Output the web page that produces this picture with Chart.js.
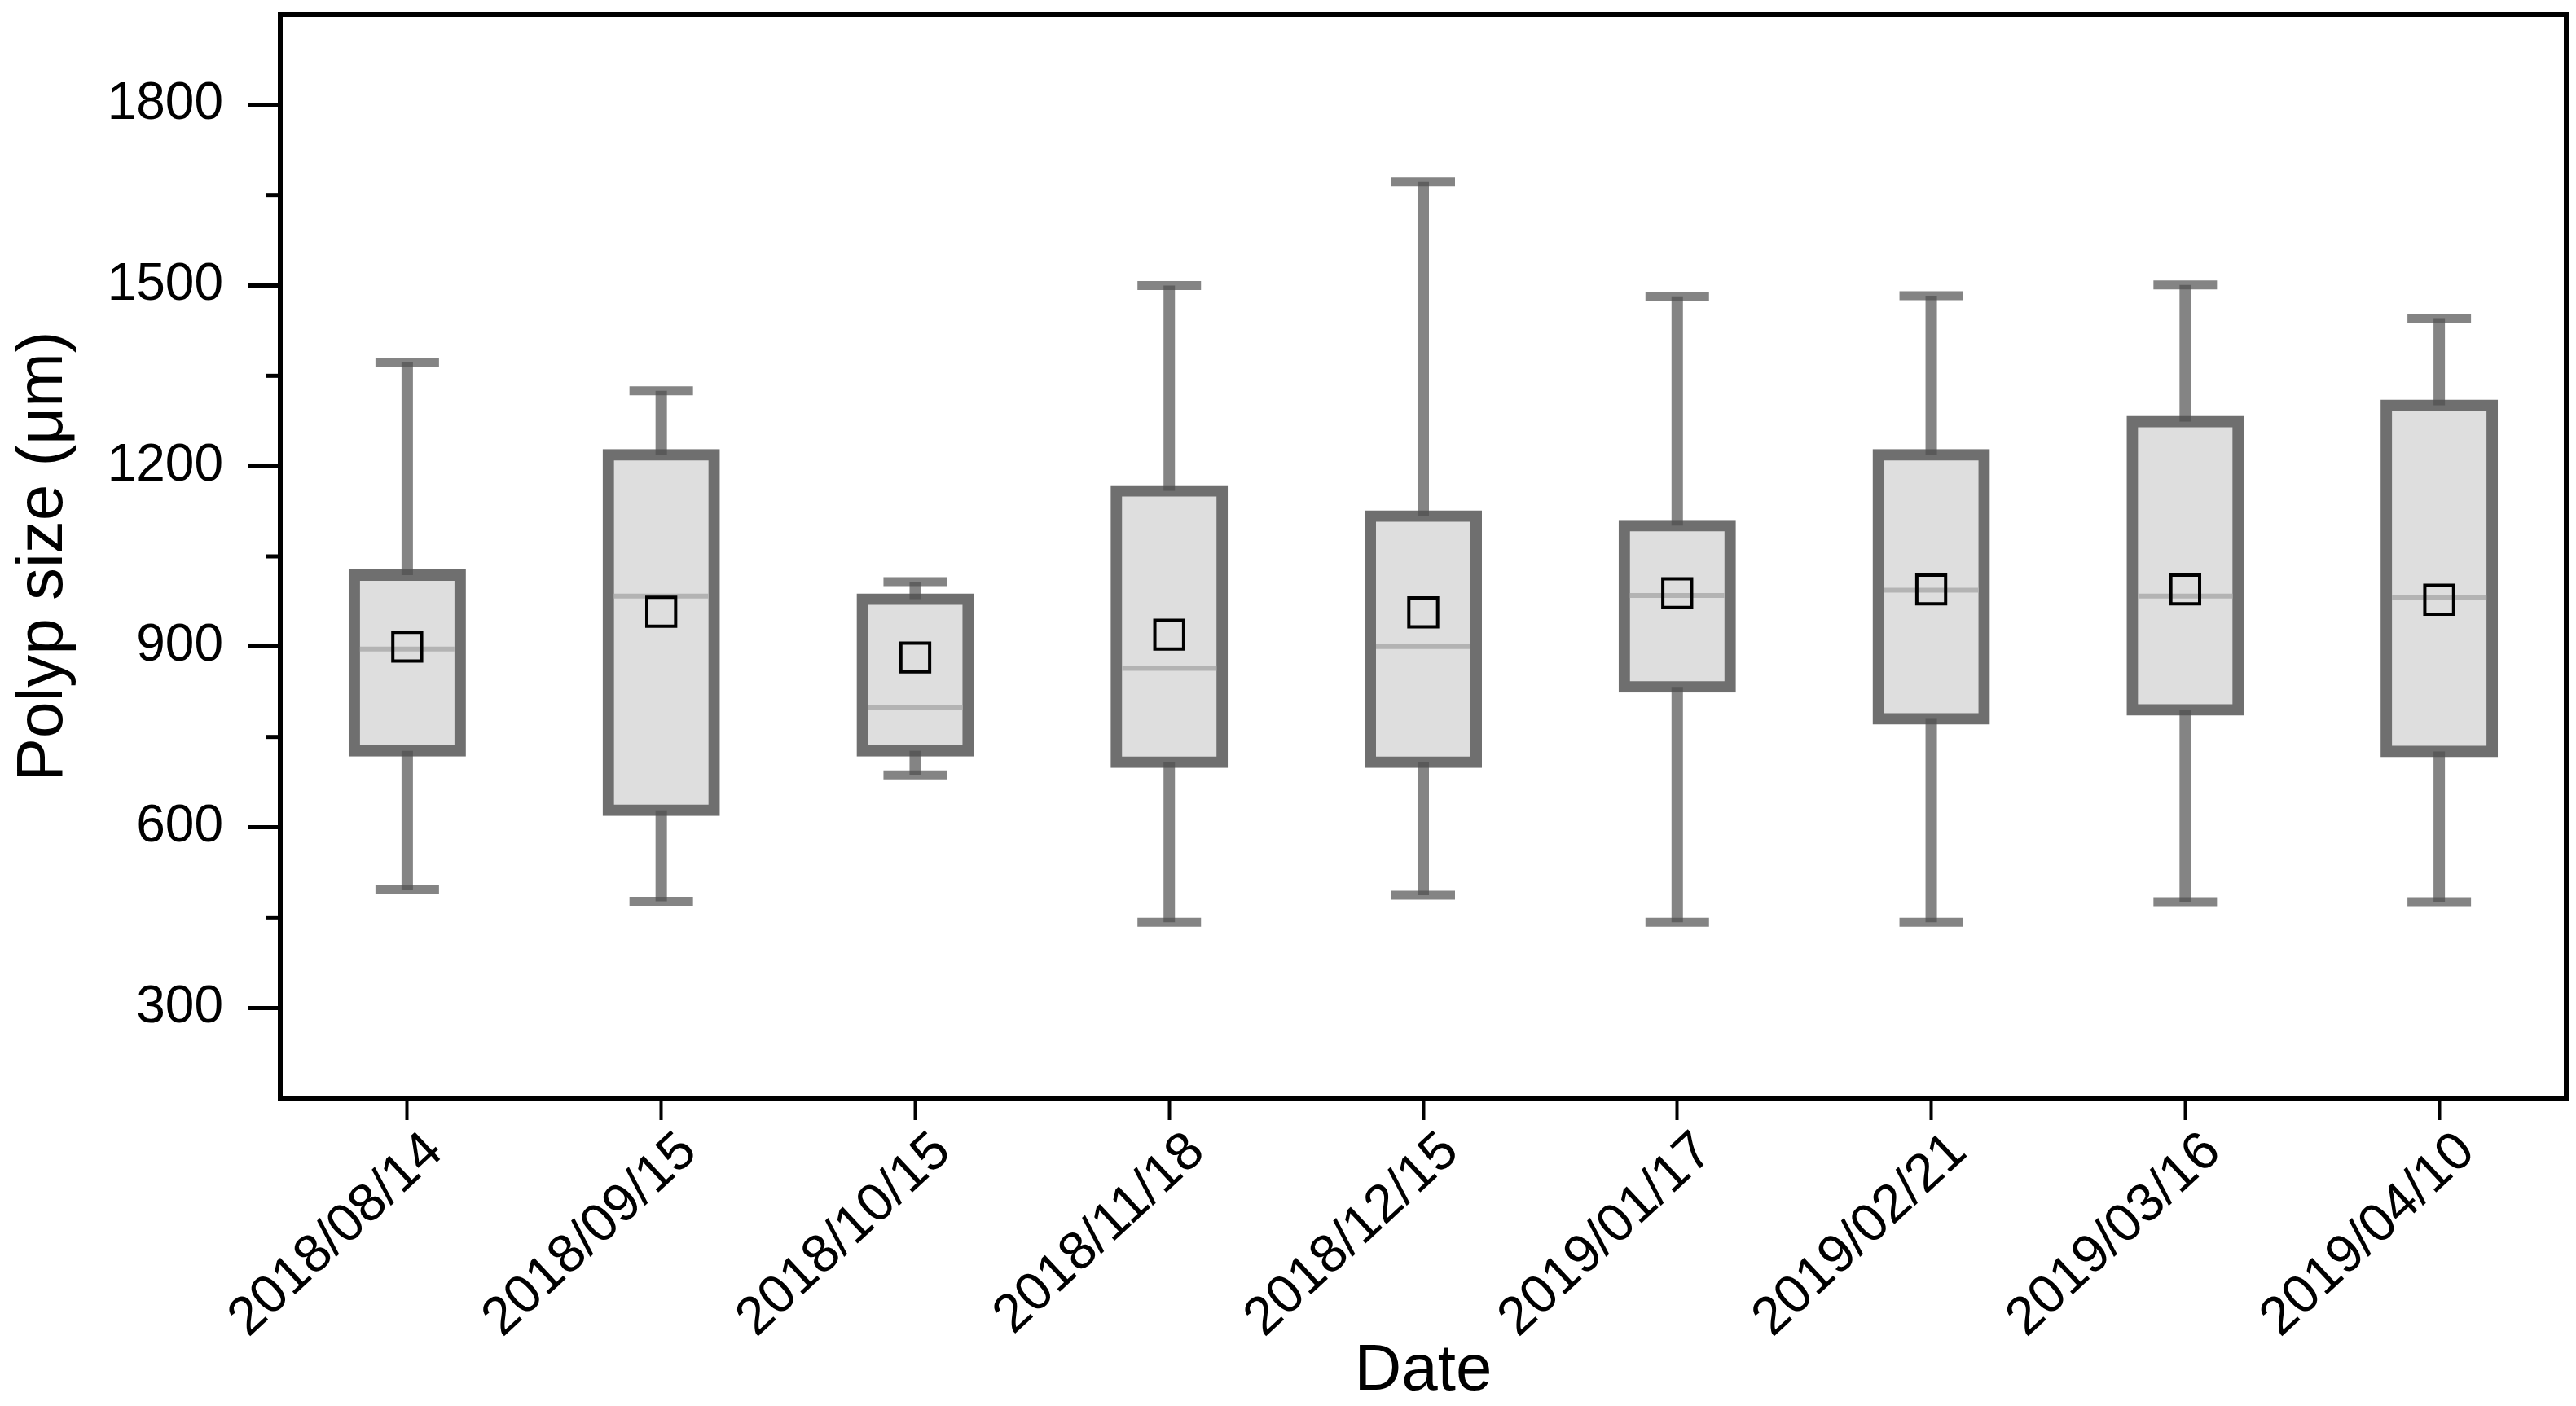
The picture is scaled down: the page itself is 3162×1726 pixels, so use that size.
<!DOCTYPE html>
<html>
<head>
<meta charset="utf-8">
<script src="https://cdn.jsdelivr.net/npm/chart.js@4.4.1/dist/chart.umd.min.js"></script>
<style>
html, body { margin: 0; padding: 0; background: #fff; }
</style>
</head>
<body>
<canvas id="polypChart" width="3162" height="1726"></canvas>
<script>
var dates = ['2018/08/14', '2018/09/15', '2018/10/15', '2018/11/18', '2018/12/15', '2019/01/17', '2019/02/21', '2019/03/16', '2019/04/10'];
var mins = [496, 477, 687, 442, 487, 442, 442, 476, 476];
var q1s = [727, 628, 727, 708, 708, 833, 780, 795, 726];
var medians = [896, 984, 799, 864, 900, 985, 994, 984, 982];
var q3s = [1019, 1219, 979, 1159, 1117, 1101, 1219, 1274, 1301];
var maxs = [1372, 1325, 1008, 1500, 1673, 1482, 1483, 1501, 1446];
var means = [900, 958, 882, 920, 957, 989, 995, 995, 978];
var yTicks = [300, 600, 900, 1200, 1500, 1800];
var yMinorTicks = [450, 750, 1050, 1350, 1650];

var whisker = 'rgba(80, 80, 80, 0.7)';

// frame round the plot + short minor ticks on the y axis
var framePlugin = {
    id: 'frame',
    afterDraw: function(chart) {
        var ctx = chart.ctx, a = chart.chartArea, y = chart.scales.y;
        ctx.save();
        ctx.strokeStyle = '#000';
        ctx.lineWidth = 6;
        ctx.strokeRect(a.left, a.top, a.right - a.left, a.bottom - a.top);
        ctx.lineWidth = 5;
        yMinorTicks.forEach(function(v) {
            var py = y.getPixelForValue(v);
            ctx.beginPath();
            ctx.moveTo(a.left - 18, py);
            ctx.lineTo(a.left, py);
            ctx.stroke();
        });
        ctx.restore();
    }
};

var ctx = document.getElementById('polypChart').getContext('2d');
var polypChart = new Chart(ctx, {
    data: {
        labels: dates,
        datasets: [
            {
                type: 'line', label: 'Mean', data: means, showLine: false, order: 0,
                pointStyle: 'rect', pointRadius: 25, pointBorderWidth: 4,
                pointBorderColor: '#000', pointBackgroundColor: 'rgba(0,0,0,0)'
            },
            {
                type: 'line', label: 'Median', data: medians, showLine: false, order: 1,
                pointStyle: 'line', pointRadius: 58, pointBorderWidth: 6, pointBorderColor: '#b3b3b3'
            },
            {
                type: 'line', label: 'Max', data: maxs, showLine: false, order: 1,
                pointStyle: 'line', pointRadius: 39, pointBorderWidth: 11, pointBorderColor: whisker
            },
            {
                type: 'line', label: 'Min', data: mins, showLine: false, order: 1,
                pointStyle: 'line', pointRadius: 39, pointBorderWidth: 11, pointBorderColor: whisker
            },
            {
                type: 'bar', label: 'Upper whisker', order: 2, grouped: false,
                data: dates.map(function(d, i) { return [q3s[i], maxs[i]]; }),
                backgroundColor: whisker, borderWidth: 0, barThickness: 14, inflateAmount: 0
            },
            {
                type: 'bar', label: 'Lower whisker', order: 2, grouped: false,
                data: dates.map(function(d, i) { return [mins[i], q1s[i]]; }),
                backgroundColor: whisker, borderWidth: 0, barThickness: 14, inflateAmount: 0
            },
            {
                // border centred on q1 / q3 like the original: 14px border, inflated 7px
                type: 'bar', label: 'Box', order: 3, grouped: false,
                data: dates.map(function(d, i) { return [q1s[i], q3s[i]]; }),
                backgroundColor: '#dedede', borderColor: '#6f6f6f', borderWidth: 14, inflateAmount: 7,
                borderSkipped: false, barPercentage: 0.417, categoryPercentage: 1
            }
        ]
    },
    options: {
        responsive: false,
        animation: false,
        devicePixelRatio: 1,
        layout: { autoPadding: false, padding: { top: 18, right: 12, left: 0, bottom: 0 } },
        plugins: { legend: { display: false }, tooltip: { enabled: false } },
        scales: {
            x: {
                type: 'category',
                offset: true,
                grid: { display: true, offset: false, drawOnChartArea: false, drawTicks: true, tickLength: 27, tickWidth: 4, tickColor: '#000' },
                border: { display: false },
                ticks: {
                    autoSkip: false, maxRotation: 43, minRotation: 43, padding: 0, labelOffset: 34,
                    color: '#000', font: { family: '"Liberation Sans", Arial, sans-serif', size: 66 }
                },
                title: {
                    display: true, text: 'Date', color: '#000', padding: { top: 0, bottom: 2 },
                    font: { family: '"Liberation Sans", Arial, sans-serif', size: 80, lineHeight: 1 }
                },
                afterFit: function(scale) {
                    scale.height = 378;
                    scale.paddingLeft = 0;
                    scale.paddingRight = 0;
                }
            },
            y: {
                type: 'linear',
                min: 150,
                max: 1950,
                grid: { display: true, drawOnChartArea: false, drawTicks: true, tickLength: 40, tickWidth: 5, tickColor: '#000' },
                border: { display: false },
                ticks: {
                    padding: 30, color: '#000',
                    font: { family: '"Liberation Sans", Arial, sans-serif', size: 64 },
                    callback: function(v) { return String(v); }
                },
                afterBuildTicks: function(scale) {
                    scale.ticks = yTicks.map(function(v) { return { value: v }; });
                },
                title: {
                    display: true, text: 'Polyp size (μm)', color: '#000', padding: { top: 14, bottom: 0 },
                    font: { family: '"Liberation Sans", Arial, sans-serif', size: 80, lineHeight: 1 }
                },
                afterFit: function(scale) {
                    scale.width = 344;
                    scale.paddingTop = 0;
                    scale.paddingBottom = 0;
                }
            }
        }
    },
    plugins: [framePlugin]
});
</script>
</body>
</html>
